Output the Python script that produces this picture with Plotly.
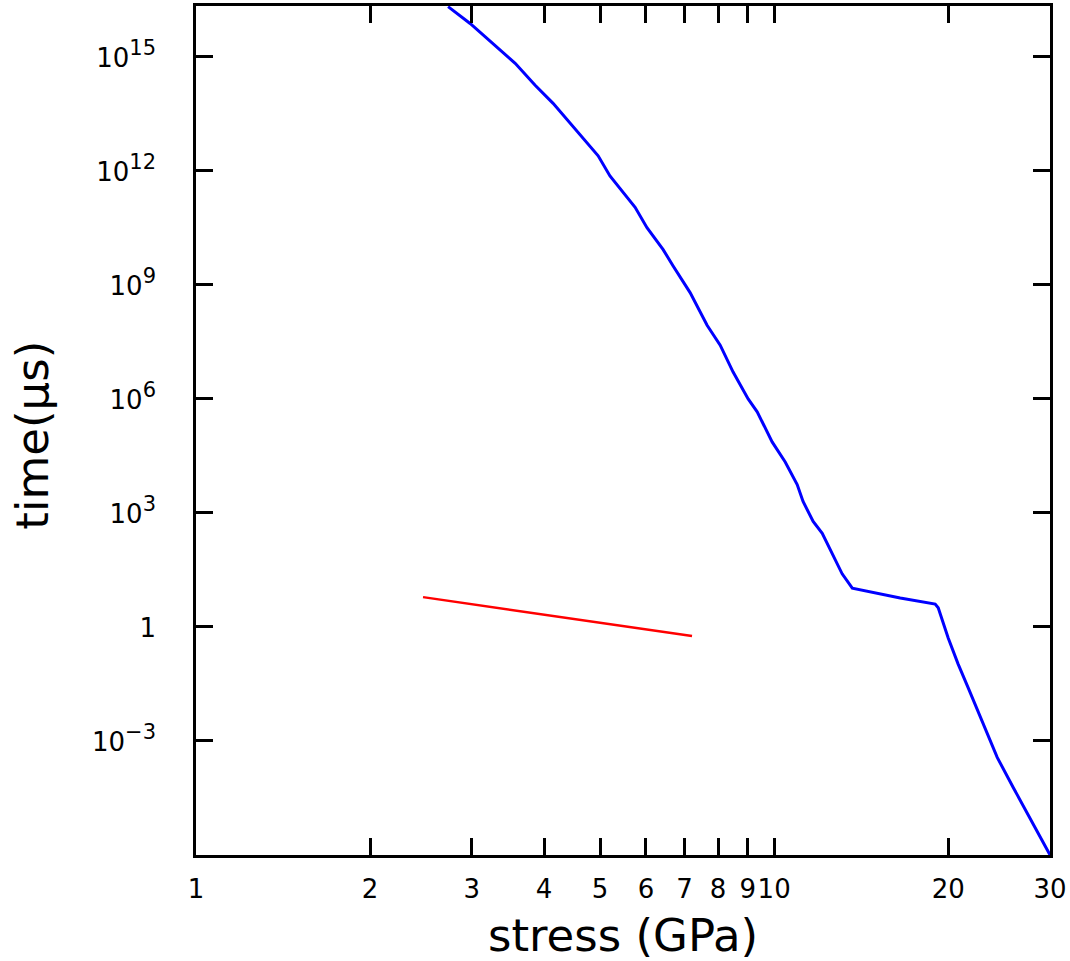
import plotly.graph_objects as go

# Blue curve: stress (GPa) vs time (microseconds)
blue_stress = [2.729, 2.979, 3.565, 3.860, 4.146, 4.961, 5.200, 5.415, 5.748, 6.026,
               6.427, 6.683, 7.155, 7.656, 8.066, 8.492, 9.016, 9.346, 9.920, 10.45,
               10.96, 11.22, 11.68, 12.11, 13.11, 13.65, 15.26, 16.52, 18.99, 19.22,
               20.00, 20.80, 21.66, 22.01, 23.36, 24.31, 25.91, 27.40, 29.79, 30.0]
blue_time = [2.1e16, 7.6e15, 6.8e14, 1.8e14, 6.0e13, 2.5e12, 7.4e11, 3.5e11, 1.1e11, 3.2e10,
             8.5e9, 3.2e9, 6.3e8, 8.7e7, 2.6e7, 5.1e6, 1.0e6, 4.6e5, 7.4e4, 2.2e4,
             5.6e3, 2.0e3, 6.0e2, 2.9e2, 25, 10.5, 7.3, 5.8, 4.0, 3.2,
             0.51, 0.107, 0.025, 0.0138, 1.6e-3, 3.7e-4, 6.0e-5, 1.26e-5, 1.12e-6, 1.0e-6]

# Red line
red_stress = [2.47, 7.21]
red_time = [6.1, 0.58]

x_tickvals = [1, 2, 3, 4, 5, 6, 7, 8, 9, 10, 20, 30]
x_ticktext = ["1", "2", "3", "4", "5", "6", "7", "8", "9", "10", "20", "30"]
y_tickvals = [1e-3, 1, 1e3, 1e6, 1e9, 1e12, 1e15]
y_exponents = ["\u22123", None, "3", "6", "9", "12", "15"]

FONT = "DejaVu Sans"
y_ticktext = [("<span style='font-size:26px'>1</span>" if e is None else
               "<span style='font-size:26px'>10</span><sup>%s</sup>" % e)
              for e in y_exponents]

fig = go.Figure()
fig.add_trace(go.Scatter(x=blue_stress, y=blue_time, mode="lines",
                         line=dict(color="#0000ff", width=3), showlegend=False))
fig.add_trace(go.Scatter(x=red_stress, y=red_time, mode="lines",
                         line=dict(color="#ff0000", width=2.5), showlegend=False))

axis_common = dict(showline=True, linecolor="black", linewidth=3, mirror="ticks",
                   ticks="inside", ticklen=17, tickwidth=3, tickcolor="black",
                   showgrid=False, zeroline=False)

fig.update_xaxes(type="log", range=[0, 1.4771], tickmode="array", tickangle=0,
                 tickvals=x_tickvals, ticktext=x_ticktext, ticklabelstandoff=9,
                 tickfont=dict(family=FONT, size=26, color="black"),
                 **axis_common)
fig.update_yaxes(type="log", range=[-6, 16.34], tickmode="array", tickangle=0,
                 tickvals=y_tickvals, ticktext=y_ticktext, ticklabelstandoff=31,
                 tickfont=dict(family=FONT, size=30, color="black"),
                 **axis_common)

fig.add_annotation(text="stress (GPa)", x=0.5, y=-0.095, xref="paper", yref="paper",
                   xanchor="center", yanchor="middle", showarrow=False,
                   font=dict(family=FONT, size=45, color="black"))
fig.add_annotation(text="time(\u03bcs)", x=-0.191, y=0.495, xref="paper", yref="paper",
                   xanchor="center", yanchor="middle", showarrow=False, textangle=-90,
                   font=dict(family=FONT, size=45, color="black"))

fig.update_layout(width=1070, height=961, plot_bgcolor="white", paper_bgcolor="white",
                  margin=dict(l=196, r=20, t=3, b=106))

fig.write_html("out.html")
